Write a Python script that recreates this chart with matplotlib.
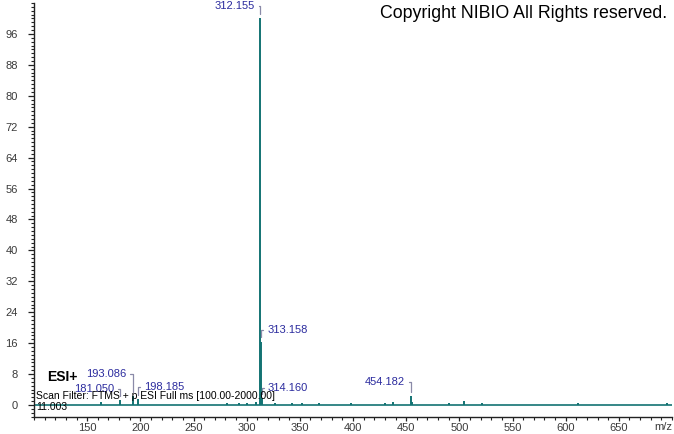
import numpy as np
import matplotlib
matplotlib.use('Agg')
import matplotlib.pyplot as plt
from matplotlib.ticker import MultipleLocator

# ================= data =================
# centroid peaks (m/z, relative abundance %)
MZ = [163.0, 181.050, 193.086, 198.185, 281.6, 292.8, 300.0, 308.5,
      312.155, 313.158, 314.160, 327.0, 343.0, 352.0, 368.0, 397.8,
      429.8, 438.0, 454.182, 455.2, 490.0, 504.3, 521.0, 611.8, 695.0]
INTENSITY = [0.9, 1.3, 2.3, 1.6, 0.5, 0.6, 0.5, 0.7,
             100.0, 16.4, 1.8, 0.5, 0.5, 0.5, 0.6, 0.5,
             0.5, 0.9, 2.3, 0.8, 0.5, 1.0, 0.5, 0.5, 0.5]

# labelled peaks and where their label sits (pixels from peak top)
LABEL_MZ = [312.155, 313.158, 314.160, 193.086, 181.050, 198.185, 454.182]
LABEL_SIDE = ['left', 'right', 'right', 'left', 'left', 'right', 'left']
LABEL_OFFSET = [(-5, 12), (7, 12), (6, 10), (-7, 22), (-6, 11), (6, 12), (-6, 14)]

Y_TICKS = list(range(0, 97, 8))
X_TICKS = list(range(150, 651, 50))

# ================= style =================
PEAK_COLOR = '#137373'
LABEL_COLOR = '#2b2b9e'
LEADER_COLOR = '#8a8aa8'
TICK_COLOR = '#3a3a3a'

plt.rcParams['font.family'] = ['Liberation Sans', 'DejaVu Sans']

fig = plt.figure(figsize=(6.74, 4.34), dpi=100)
ax = fig.add_axes([34 / 674, 17 / 434, 638 / 674, 414 / 434])

# spectrum: baseline + sticks
ax.axhline(0, color=PEAK_COLOR, lw=1.2, zorder=2)
ax.vlines(MZ, 0, INTENSITY, color=PEAK_COLOR, lw=1.4, zorder=3)

intens = dict(zip(MZ, INTENSITY))
for m, side, off in zip(LABEL_MZ, LABEL_SIDE, LABEL_OFFSET):
    ha = 'right' if side == 'left' else 'left'
    rel = (1, 0.5) if side == 'left' else (0, 0.5)
    ax.annotate(f"{m:.3f}", xy=(m, intens[m]), xytext=off,
                textcoords='offset pixels', ha=ha, va='center',
                fontsize=8, color=LABEL_COLOR,
                arrowprops=dict(arrowstyle='-', color=LEADER_COLOR, lw=0.9,
                                connectionstyle='angle,angleA=0,angleB=90,rad=0',
                                relpos=rel, shrinkA=1, shrinkB=3))

ax.set_xlim(100, 700)
ax.set_ylim(-3.1, 104)

ax.set_xticks(X_TICKS)
ax.set_yticks(Y_TICKS)
ax.xaxis.set_minor_locator(MultipleLocator(10))
ax.yaxis.set_minor_locator(MultipleLocator(1))
ax.tick_params(axis='both', which='major', direction='out', length=4.5,
               width=0.9, color='#222222', labelsize=8, labelcolor=TICK_COLOR)
ax.tick_params(axis='both', which='minor', direction='out', length=2.2,
               width=0.8, color='#222222')
ax.tick_params(axis='y', which='major', pad=7)
ax.tick_params(axis='x', which='major', length=3, pad=1)
ax.tick_params(axis='x', which='minor', length=2)

for s in ['top', 'right']:
    ax.spines[s].set_visible(False)
for s in ['left', 'bottom']:
    ax.spines[s].set_color('#222222')
    ax.spines[s].set_linewidth(1.0)

ax.text(1.0, -0.012, 'm/z', transform=ax.transAxes, ha='right', va='top',
        fontsize=8, color=TICK_COLOR)

# header texts
ax.text(0.02, 0.097, 'ESI+', transform=ax.transAxes, ha='left', va='center',
        fontsize=10, fontweight='bold', color='black')
ax.text(0.003, 0.051, 'Scan Filter: FTMS + p ESI Full ms [100.00-2000.00]',
        transform=ax.transAxes, ha='left', va='center', fontsize=7.5, color='black')
ax.text(0.003, 0.024, '11.003', transform=ax.transAxes, ha='left',
        va='center', fontsize=7.5, color='black')

fig.text(667 / 674, 1 - 13 / 434, 'Copyright NIBIO All Rights reserved.',
         ha='right', va='center', fontsize=12.8, color='black')

fig.savefig('out.png', dpi=100, facecolor='white')
